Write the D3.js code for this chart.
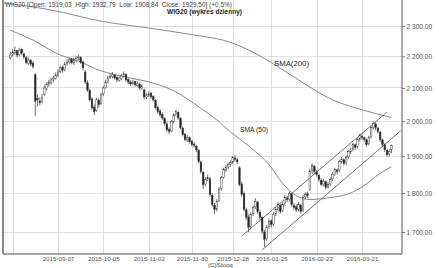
<!DOCTYPE html>
<html><head><meta charset="utf-8">
<script src="https://cdn.jsdelivr.net/npm/d3@7"></script>
<style>body{margin:0;background:#fff}svg{display:block;font-family:"Liberation Sans",Arial,sans-serif}</style>
</head><body><svg id="c" width="439" height="268"></svg>
<script>
const firstDay = "2015-08-04", lastDay = "2016-04-15", priceStart = "2015-08-07";
const holidays = ["2015-11-11","2015-12-24","2015-12-25","2015-12-31","2016-01-01","2016-01-06","2016-03-25","2016-03-28"];

const opens = [2195,2206,2210,2218,2206,2222,2208,2196,2178,2186,2178,2141,2068,2060,2058,2080,2098,2112,2116,2128,
2130,2140,2152,2165,2158,2176,2182,2190,2178,2186,2195,2196,2182,2150,2116,2092,2066,2042,2032,2062,
2052,2082,2102,2120,2134,2136,2140,2133,2124,2130,2138,2142,2126,2118,2114,2120,2108,2112,2098,2094,
2072,2078,2084,2074,2062,2040,2030,2020,2008,1992,1976,1972,2000,2020,2026,2008,1980,1962,1946,1952,
1942,1934,1928,1916,1884,1856,1824,1838,1838,1794,1768,1758,1780,1812,1842,1862,1870,1878,1884,1895,
1890,1868,1824,1798,1756,1738,1714,1746,1764,1776,1750,1736,1700,1684,1714,1728,1720,1746,1758,1768,
1754,1772,1786,1784,1796,1768,1764,1758,1768,1754,1790,1798,1810,1860,1872,1856,1848,1834,1824,1830,
1816,1824,1838,1852,1862,1862,1886,1890,1882,1898,1912,1920,1932,1928,1948,1956,1952,1946,1936,1956,
1982,1992,1980,1968,1946,1932,1916,1906,1919.03];
const highs = [2215,2224,2232,2222,2228,2226,2212,2200,2196,2192,2185,2146,2080,2072,2082,2108,2118,2126,2132,2138,
2148,2158,2170,2170,2182,2190,2196,2194,2195,2200,2206,2200,2186,2156,2124,2098,2072,2050,2070,2068,
2086,2106,2126,2138,2144,2150,2145,2138,2136,2142,2152,2146,2130,2124,2126,2122,2120,2116,2112,2098,
2084,2090,2088,2078,2066,2046,2036,2026,2012,1998,1982,2004,2024,2034,2030,2012,1984,1966,1960,1956,
1946,1940,1932,1920,1888,1860,1842,1850,1842,1800,1774,1784,1816,1846,1868,1876,1882,1888,1900,1902,
1896,1872,1830,1804,1762,1744,1750,1768,1786,1780,1756,1740,1706,1718,1734,1732,1750,1764,1776,1772,
1776,1794,1792,1804,1800,1774,1770,1776,1772,1794,1802,1804,1866,1880,1876,1862,1852,1840,1838,1834,
1830,1842,1856,1868,1866,1890,1898,1894,1902,1918,1924,1938,1936,1952,1964,1962,1956,1950,1958,1986,
1999,1996,1984,1972,1950,1936,1920,1920,1932.79];
const lows = [2190,2200,2205,2196,2200,2204,2190,2174,2172,2168,2160,2015,2045,2048,2052,2076,2092,2104,2110,2118,
2126,2134,2146,2148,2152,2170,2176,2174,2172,2180,2188,2176,2156,2112,2088,2058,2034,2018,2028,2040,
2048,2076,2098,2114,2128,2130,2126,2118,2120,2124,2132,2120,2112,2106,2110,2104,2104,2094,2094,2066,
2066,2072,2066,2058,2034,2022,2012,2004,1986,1968,1962,1968,1994,2014,2004,1976,1956,1942,1940,1936,
1928,1924,1912,1880,1852,1810,1818,1832,1790,1764,1745,1752,1776,1806,1838,1856,1864,1870,1878,1884,
1878,1818,1790,1752,1730,1700,1708,1740,1758,1746,1730,1696,1663,1678,1708,1712,1714,1740,1752,1746,
1750,1766,1776,1778,1764,1756,1750,1752,1746,1750,1784,1786,1806,1852,1852,1844,1830,1818,1818,1810,
1812,1820,1832,1846,1850,1856,1880,1874,1876,1892,1906,1914,1918,1922,1942,1946,1940,1926,1930,1950,
1976,1974,1964,1940,1926,1912,1898,1900,1908.84];
const closes = [2204,2212,2220,2204,2220,2210,2198,2180,2188,2175,2168,2060,2064,2055,2070,2100,2110,2119,2125,2131,
2141,2150,2163,2156,2175,2180,2188,2180,2188,2194,2198,2180,2163,2119,2094,2064,2040,2028,2064,2049,
2079,2100,2119,2131,2137,2141,2131,2125,2131,2137,2144,2125,2119,2113,2119,2110,2113,2100,2106,2073,
2076,2082,2073,2064,2040,2028,2019,2010,1993,1975,1970,1999,2019,2028,2010,1981,1961,1947,1953,1941,
1933,1930,1918,1885,1858,1823,1836,1841,1796,1770,1757,1778,1810,1841,1863,1869,1877,1882,1896,1891,
1885,1823,1796,1757,1737,1712,1745,1762,1778,1752,1737,1702,1682,1712,1727,1719,1745,1757,1770,1752,
1770,1788,1783,1799,1770,1762,1757,1770,1752,1788,1796,1794,1858,1874,1858,1850,1836,1823,1831,1815,
1823,1836,1850,1863,1858,1885,1891,1880,1896,1913,1918,1933,1925,1947,1958,1953,1947,1933,1953,1981,
1993,1981,1970,1947,1933,1918,1904,1913,1929.50];

const sma200Dates = ["2015-08-04","2015-09-01","2015-10-05","2015-11-02","2015-11-30","2015-12-28","2016-01-13","2016-01-25","2016-02-10","2016-03-02","2016-03-21","2016-04-11"];
const sma200 = [2379,2356,2315,2293,2271,2243,2213,2180,2125,2064,2034,2011];
const sma50Dates = ["2015-08-07","2015-08-21","2015-09-08","2015-09-17","2015-10-01","2015-10-21","2015-11-02","2015-11-19","2015-12-04","2015-12-15","2015-12-23","2016-01-11","2016-01-25","2016-02-01","2016-02-09","2016-02-17","2016-03-01","2016-03-10","2016-03-21","2016-04-04","2016-04-11"];
const sma50 = [2286,2253,2204,2188,2156,2131,2119,2088,2038,2004,1969,1929,1869,1826,1793,1783,1788,1796,1816,1853,1871];
const channelUpperDates = ["2016-01-05","2016-04-07"], channelUpper = [1690,2027];
const channelLowerDates = ["2016-01-19","2016-04-15"], channelLower = [1656,1972];

const gridDates = ["2015-08-10","2015-09-07","2015-10-05","2015-11-02","2015-11-30","2015-12-28","2016-01-25","2016-02-22","2016-03-21"];
const labelDates = ["2015-09-07","2015-10-05","2015-11-02","2015-11-30","2015-12-28","2016-01-25","2016-02-22","2016-03-21"];
const yTicks = [1700,1800,1900,2000,2100,2200,2300];

const headerText = "WIG20 [Open: 1919,03  High: 1932,79  Low: 1908,84  Close: 1929,50] (+0,5%)";
const titleText = "WIG20 (wykres dzienny)";

const parse = d3.utcParse("%Y-%m-%d"), fmt = d3.utcFormat("%Y-%m-%d");
const days = d3.utcDay.range(parse(firstDay), d3.utcDay.offset(parse(lastDay), 1))
  .filter(d => d.getUTCDay() % 6 !== 0 && !holidays.includes(fmt(d))).map(fmt);
const idx = new Map(days.map((d, i) => [d, i]));
const start = idx.get(priceStart);

const L = 3, R = 402, T = 0, B = 254;
const x = d3.scaleLinear().domain([0, days.length - 1]).range([3.5, 400.6]);
const y = d3.scaleLog().domain([1700, 2300]).range([232, 26]);

const svg = d3.select("#c");
svg.append("rect").attr("width", 439).attr("height", 268).attr("fill", "#fff");

// grid
svg.append("g").selectAll("line").data(yTicks).join("line")
  .attr("x1", L).attr("x2", R).attr("y1", d => y(d)).attr("y2", d => y(d))
  .attr("stroke", "#e0e0e0").attr("stroke-width", 1).attr("shape-rendering", "crispEdges");
svg.append("g").selectAll("line").data(gridDates).join("line")
  .attr("x1", d => Math.round(x(idx.get(d))) + 0.5).attr("x2", d => Math.round(x(idx.get(d))) + 0.5)
  .attr("y1", T).attr("y2", B)
  .attr("stroke", "#e0e0e0").attr("stroke-width", 1);

// frame
svg.append("line").attr("x1", L).attr("x2", L).attr("y1", T).attr("y2", B).attr("stroke", "#888").attr("stroke-width", 2);
svg.append("line").attr("x1", L).attr("x2", R).attr("y1", B).attr("y2", B).attr("stroke", "#888").attr("stroke-width", 1.5);
svg.append("line").attr("x1", R).attr("x2", R).attr("y1", T).attr("y2", B).attr("stroke", "#777").attr("stroke-width", 1.2);

// y axis
const fmtY = d => Math.floor(d / 1000) + " " + String(d % 1000).padStart(3, "0") + ",00";
const ya = svg.append("g").attr("transform", `translate(${R},0)`)
  .call(d3.axisRight(y).tickValues(yTicks).tickFormat(fmtY).tickSize(3).tickPadding(1.5));
ya.select(".domain").remove();
ya.selectAll("line").attr("stroke", "#777");
ya.selectAll("text").attr("font-size", 6.6).attr("fill", "#555").attr("font-family", "Liberation Sans, Arial, sans-serif");

// x axis
const xa = svg.append("g").attr("transform", `translate(0,${B})`)
  .call(d3.axisBottom(x).tickValues(labelDates.map(d => idx.get(d))).tickFormat(i => days[i]).tickSize(0).tickPadding(3));
xa.select(".domain").remove();
xa.selectAll("text").attr("font-size", 6.2).attr("fill", "#555").attr("font-family", "Liberation Sans, Arial, sans-serif");

// SMA lines
const line = d3.line().x(d => x(idx.get(d[0]))).y(d => y(d[1])).curve(d3.curveMonotoneX);
svg.append("path").attr("d", line(sma200Dates.map((d, i) => [d, sma200[i]])))
  .attr("fill", "none").attr("stroke", "#8a8a8a").attr("stroke-width", 1);
svg.append("path").attr("d", line(sma50Dates.map((d, i) => [d, sma50[i]])))
  .attr("fill", "none").attr("stroke", "#8a8a8a").attr("stroke-width", 1);

// channel
const lin = d3.line().x(d => x(idx.get(d[0]))).y(d => y(d[1]));
svg.append("path").attr("d", lin(channelUpperDates.map((d, i) => [d, channelUpper[i]])))
  .attr("fill", "none").attr("stroke", "#555").attr("stroke-width", 0.8);
svg.append("path").attr("d", lin(channelLowerDates.map((d, i) => [d, channelLower[i]])))
  .attr("fill", "none").attr("stroke", "#555").attr("stroke-width", 0.8);

// candles
const bars = closes.map((c, i) => ({ i: start + i, o: opens[i], h: highs[i], l: lows[i], c }));
const cg = svg.append("g");
cg.selectAll("line").data(bars).join("line")
  .attr("x1", d => x(d.i)).attr("x2", d => x(d.i))
  .attr("y1", d => y(d.h)).attr("y2", d => y(d.l))
  .attr("stroke", "#333").attr("stroke-width", 0.7);
cg.selectAll("rect").data(bars).join("rect")
  .attr("x", d => x(d.i) - 0.8).attr("width", 1.6)
  .attr("y", d => y(Math.max(d.o, d.c)))
  .attr("height", d => Math.max(0.8, Math.abs(y(d.o) - y(d.c))))
  .attr("fill", d => d.c >= d.o ? "#fff" : "#222")
  .attr("stroke", "#333").attr("stroke-width", 0.45);

// texts
svg.append("text").attr("x", 5).attr("y", 6.5).attr("font-size", 6.6).attr("fill", "#444")
  .attr("textLength", 227).attr("lengthAdjust", "spacingAndGlyphs").style("white-space", "pre").text(headerText);
svg.append("text").attr("x", 167).attr("y", 13.5).attr("font-size", 6.8).attr("font-weight", "bold").attr("fill", "#222")
  .attr("textLength", 75).attr("lengthAdjust", "spacingAndGlyphs").text(titleText);
svg.append("text").attr("x", 274).attr("y", 65.5).attr("font-size", 7).attr("fill", "#222")
  .attr("textLength", 35).attr("lengthAdjust", "spacingAndGlyphs").text("SMA(200)");
svg.append("text").attr("x", 240).attr("y", 131.5).attr("font-size", 7).attr("fill", "#222")
  .attr("textLength", 28).attr("lengthAdjust", "spacingAndGlyphs").text("SMA (50)");
svg.append("text").attr("x", 208).attr("y", 267).attr("font-size", 6.2).attr("fill", "#444").text("(C)Stooq");
</script></body></html>
